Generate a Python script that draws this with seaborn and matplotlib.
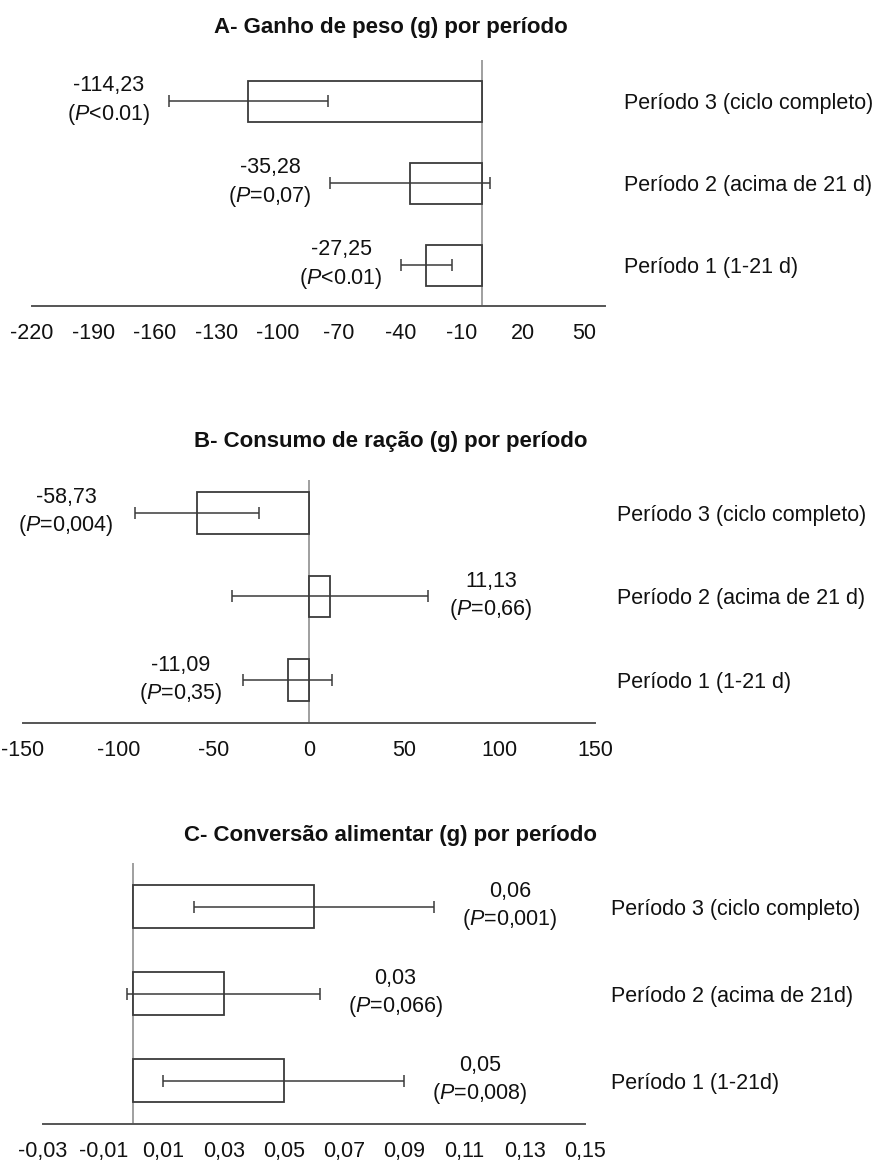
import numpy as np
import pandas as pd
import matplotlib
matplotlib.use("Agg")
import matplotlib.pyplot as plt
import seaborn as sns

# ---------------- data ----------------
periods_ab = ["Período 3 (ciclo completo)", "Período 2 (acima de 21 d)", "Período 1 (1-21 d)"]
periods_c = ["Período 3 (ciclo completo)", "Período 2 (acima de 21d)", "Período 1 (1-21d)"]

ganho_vals = [-114.23, -35.28, -27.25]
ganho_err = [39.0, 39.2, 12.4]
ganho_text = ["-114,23", "-35,28", "-27,25"]
ganho_p = ["<0.01", "=0,07", "<0.01"]
ganho_ticks = [-220, -190, -160, -130, -100, -70, -40, -10, 20, 50]

consumo_vals = [-58.73, 11.13, -11.09]
consumo_err = [32.7, 51.4, 23.3]
consumo_text = ["-58,73", "11,13", "-11,09"]
consumo_p = ["=0,004", "=0,66", "=0,35"]
consumo_ticks = [-150, -100, -50, 0, 50, 100, 150]

conv_vals = [0.06, 0.03, 0.05]
conv_err = [0.040, 0.032, 0.040]
conv_text = ["0,06", "0,03", "0,05"]
conv_p = ["=0,001", "=0,066", "=0,008"]
conv_ticks = [-0.03, -0.01, 0.01, 0.03, 0.05, 0.07, 0.09, 0.11, 0.13, 0.15]
conv_ticklabels = ["-0,03", "-0,01", "0,01", "0,03", "0,05", "0,07", "0,09", "0,11", "0,13", "0,15"]

titles = ["A- Ganho de peso (g) por período",
          "B- Consumo de ração (g) por período",
          "C- Conversão alimentar (g) por período"]

# ---------------- style ----------------
sns.set_style("white")
plt.rcParams["font.family"] = ["Liberation Sans", "DejaVu Sans"]
plt.rcParams["mathtext.fontset"] = "custom"
plt.rcParams["mathtext.rm"] = "Liberation Sans"
plt.rcParams["mathtext.it"] = "Liberation Sans:italic"

W, H = 887, 1162
fig = plt.figure(figsize=(W / 100, H / 100), dpi=100)
fig.patch.set_facecolor("white")

EDGE = "#3a3a3a"
ZERO = "#8f8f8f"
FS = 15.5


def px_axes(left, right, top, bottom):
    return [left / W, 1 - bottom / H, (right - left) / W, (bottom - top) / H]


panels = [
    dict(rect=px_axes(32, 605, 60, 306), cats=periods_ab, vals=ganho_vals, err=ganho_err,
         txt=ganho_text, p=ganho_p, ticks=ganho_ticks, ticklabels=[str(t) for t in ganho_ticks],
         xlim=(-220, 60), ylim=(2.5, -0.5), ypad=14, toff=13, title=titles[0], ty=27),
    dict(rect=px_axes(23, 595, 480, 723), cats=periods_ab, vals=consumo_vals, err=consumo_err,
         txt=consumo_text, p=consumo_p, ticks=consumo_ticks, ticklabels=[str(t) for t in consumo_ticks],
         xlim=(-150, 150), ylim=(2.51, -0.39), ypad=16, toff=15, title=titles[1], ty=442),
    dict(rect=px_axes(43, 585, 863, 1124), cats=periods_c, vals=conv_vals, err=conv_err,
         txt=conv_text, p=conv_p, ticks=conv_ticks, ticklabels=conv_ticklabels,
         xlim=(-0.03, 0.15), ylim=(2.5, -0.5), ypad=19, toff=20, title=titles[2], ty=836),
]

for pnl in panels:
    ax = fig.add_axes(pnl["rect"])
    df = pd.DataFrame({"periodo": pnl["cats"], "valor": pnl["vals"]})
    sns.barplot(data=df, x="valor", y="periodo", orient="h", ax=ax,
                color="white", edgecolor=EDGE, linewidth=1.3, width=0.5,
                errorbar=None, saturation=1, zorder=3)
    ypos = np.arange(len(pnl["vals"]))
    ax.errorbar(pnl["vals"], ypos, xerr=pnl["err"], fmt="none", ecolor=EDGE,
                elinewidth=1.1, capsize=4.5, capthick=1.1, zorder=4)
    ax.axvline(0, color=ZERO, lw=1.2, zorder=2)
    ax.set_xlim(*pnl["xlim"])
    ax.set_ylim(*pnl["ylim"])
    ax.set_xticks(pnl["ticks"])
    ax.set_xticklabels(pnl["ticklabels"])
    ax.set_xlabel("")
    ax.set_ylabel("")
    ax.yaxis.tick_right()
    ax.tick_params(axis="y", length=0, pad=pnl["ypad"], labelsize=FS, labelcolor="#111111")
    ax.tick_params(axis="x", length=0, pad=12, labelsize=FS, labelcolor="#111111")
    for s in ["top", "right", "left"]:
        ax.spines[s].set_visible(False)
    ax.spines["bottom"].set_color("#555555")
    ax.spines["bottom"].set_linewidth(1.4)
    ax.set_facecolor("none")

    for i, (v, e, t, p) in enumerate(zip(pnl["vals"], pnl["err"], pnl["txt"], pnl["p"])):
        label = t + "\n($\\mathit{P}$" + p + ")"
        if v < 0:
            ax.annotate(label, xy=(v - e, i), xytext=(-pnl["toff"], 0), textcoords="offset points",
                        ha="right", va="center", multialignment="center",
                        fontsize=FS, linespacing=1.3, color="#111111")
        else:
            ax.annotate(label, xy=(v + e, i), xytext=(pnl["toff"], 0), textcoords="offset points",
                        ha="left", va="center", multialignment="center",
                        fontsize=FS, linespacing=1.3, color="#111111")

    fig.text(391 / W, 1 - pnl["ty"] / H, pnl["title"], ha="center", va="center",
             fontsize=16, fontweight="bold", color="#111111")

fig.savefig("out.png", dpi=100, facecolor="white")
